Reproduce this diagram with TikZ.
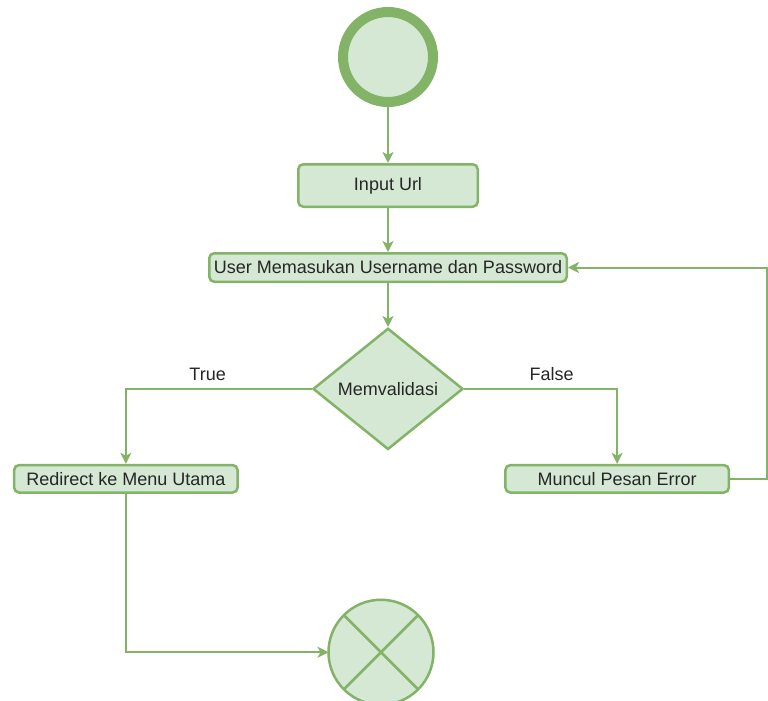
\documentclass[tikz,border=0pt]{standalone}
\usepackage{fontspec}
\setmainfont{Liberation Sans}
\usetikzlibrary{positioning, arrows.meta, shapes.geometric}

\definecolor{actFill}{HTML}{D5E8D4}
\definecolor{actLine}{HTML}{82B366}
\definecolor{actText}{HTML}{262626}

\begin{document}
\begin{tikzpicture}[
    x=1pt, y=1pt,
    % --- STYLES ---
    startNode/.style={
            circle,
            draw=actLine,
            fill=actFill,
            line width=10pt,
            minimum size=90pt,
            inner sep=0pt
        },
    endNode/.style={
            circle,
            draw=actLine,
            fill=actFill,
            line width=2.5pt,
            minimum size=105pt,
            inner sep=0pt,
            outer sep=0pt
        },
    act/.style={
            draw=actLine,
            fill=actFill,
            line width=2.5pt,
            rounded corners=5pt,
            minimum height=27.5pt,
            minimum width=223.5pt,
            inner sep=2pt,
            text=actText,
            font=\fontsize{18}{21}\selectfont
        },
    decision/.style={
            diamond,
            draw=actLine,
            fill=actFill,
            line width=2.5pt,
            minimum width=150pt,
            minimum height=118pt,
            inner sep=2pt,
            text=actText,
            font=\fontsize{18}{21}\selectfont
        },
    flowArrow/.style={
    -{Stealth[length=11pt, width=11pt, inset=3pt]},
    line width=2pt,
    color=actLine
    },
    cond/.style={
            above=4pt,
            font=\fontsize{18}{21}\selectfont,
            text=actText
        }
    ]

    \useasboundingbox (0,0) rectangle (768,-701);

    % 1. Start dan aktivitas awal
    \node[startNode] (start) at (388,-57) {};
    \node[act, below=56pt of start, minimum width=179.5pt, minimum height=42.5pt] (input) {Input Url};
    \node[act, below=44pt of input, minimum width=357.5pt, minimum height=28.5pt] (user) {User Memasukan Username dan Password};

    % 2. Keputusan
    \node[decision, below=44pt of user] (valid) {Memvalidasi};

    % 3. Cabang True / False
    \node[act, below left=44pt and 111pt of valid] (redirect) {Redirect ke Menu Utama};
    \node[act, below right=44pt and 78pt of valid] (error) {Muncul Pesan Error};

    % 4. Akhir
    \node[endNode, below=149pt of valid, xshift=-7pt] (finish) {};
    \draw[actLine, line width=2.5pt] (finish.45) -- (finish.225) (finish.135) -- (finish.315);

    % 5. Alur
    \draw[flowArrow] (start) -- (input);
    \draw[flowArrow] (input) -- (user);
    \draw[flowArrow] (user) -- (valid);
    \draw[flowArrow] (valid.west) -| node[cond, pos=0.28] {True} (redirect);
    \draw[flowArrow] (valid.east) -| node[cond, pos=0.286] {False} (error);
    \draw[flowArrow] (error.east) -- ++(37pt,0) |- (user.east);
    \draw[flowArrow] (redirect) |- (finish);

\end{tikzpicture}
\end{document}
